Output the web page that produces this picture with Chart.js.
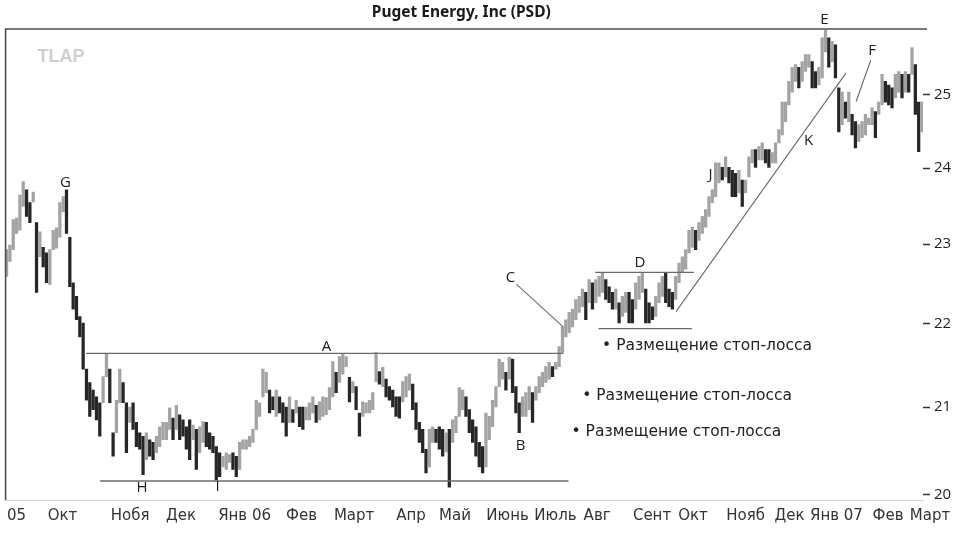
<!DOCTYPE html>
<html>
<head>
<meta charset="utf-8">
<script src="https://cdn.jsdelivr.net/npm/chart.js@4.4.1/dist/chart.umd.min.js"></script>
<style>
  html, body { margin: 0; padding: 0; background: #fff; }
  canvas { display: block; }
</style>
</head>
<body>
<canvas id="chart" width="961" height="536"></canvas>
<script>
// daily high / low, Sept 2005 - March 2007
const highs = [
  22.93, 22.99, 23.32, 23.34, 23.64, 23.82, 23.71, 23.54, 23.68, 23.28,
  23.16, 22.96, 22.89, 22.93, 23.18, 23.21, 23.54, 23.62, 23.71, 23.09,
  22.51, 22.34, 22.09, 22.01, 21.45, 21.29, 21.20, 21.12, 21.05, 21.36,
  21.63, 21.45, 20.70, 21.08, 21.45, 21.29, 21.05, 21.00, 21.05, 20.82,
  20.70, 20.66, 20.70, 20.62, 20.59, 20.66,
  20.77, 20.82, 20.82, 20.99, 20.87, 21.02, 20.91, 20.85, 20.77, 20.85,
  20.79, 20.74, 20.77, 20.83, 20.82, 20.70, 20.66, 20.54, 20.47, 20.43,
  20.47, 20.45, 20.47, 20.43, 20.59, 20.62, 20.62, 20.66, 20.74, 21.08,
  21.05, 21.45, 21.41, 21.20, 21.12, 21.20, 21.12, 21.05, 21.00, 21.12,
  20.97, 21.08, 21.00, 21.00, 21.00, 21.05, 21.12, 21.02,
  21.06, 21.12, 21.11, 21.23, 21.54, 21.41, 21.60, 21.63, 21.60, 21.35,
  21.30, 21.24, 20.93, 21.06, 21.05, 21.08, 21.17, 21.65, 21.42, 21.47,
  21.33, 21.24, 21.20, 21.12, 21.12, 21.30, 21.36, 21.39, 21.27, 21.05,
  20.82, 20.74, 20.51, 20.74, 20.77, 20.74, 20.77, 20.74, 20.70, 20.74,
  20.85, 20.89, 21.23, 21.20, 21.12, 20.97, 20.85,
  20.77, 20.59, 20.54, 20.93, 20.89, 21.08, 21.24, 21.57, 21.53, 21.41,
  21.59, 21.57, 21.24, 21.05, 21.12, 21.17, 21.24, 21.17, 21.24, 21.36,
  21.41, 21.48, 21.53, 21.48, 21.53, 21.72, 21.96, 22.05, 22.14, 22.18,
  22.30, 22.34, 22.43, 22.39, 22.55, 22.51, 22.55, 22.59, 22.64, 22.55,
  22.46, 22.39, 22.43, 22.26, 22.34, 22.39,
  22.39, 22.30, 22.51, 22.59, 22.64, 22.43, 22.26, 22.21, 22.34, 22.51,
  22.59, 22.64, 22.43, 22.39, 22.59, 22.76, 22.84, 22.93, 23.18, 23.22,
  23.18, 23.28, 23.36, 23.45, 23.62, 23.71, 24.07, 24.07, 24.01, 24.15,
  24.01, 23.97, 23.93, 23.97, 23.84, 23.84, 24.15, 24.25, 24.25, 24.29,
  24.34, 24.25, 24.25, 24.21, 24.34, 24.52,
  24.90, 24.90, 25.19, 25.39, 25.43, 25.39, 25.47, 25.57, 25.57, 25.47,
  25.33, 25.39, 25.81, 25.92, 25.81, 25.76, 25.71, 25.10, 25.04, 24.90,
  25.04, 24.73, 24.63, 24.59, 24.63, 24.73, 24.68, 24.82, 24.77, 24.90,
  25.29, 25.19, 25.14, 25.10, 25.29, 25.33, 25.29, 25.33, 25.29, 25.67,
  25.43, 24.90, 24.90
];
const lows = [
  22.59, 22.78, 22.93, 23.14, 23.18, 23.49, 23.36, 23.28, 23.55, 22.39,
  22.84, 22.71, 22.51, 22.49, 22.93, 22.95, 23.09, 23.42, 23.14, 22.46,
  22.18, 22.05, 21.84, 21.45, 21.08, 20.89, 20.97, 20.85, 20.66, 21.05,
  21.36, 21.05, 20.43, 20.70, 21.05, 21.05, 20.47, 20.82, 20.74, 20.54,
  20.51, 20.22, 20.39, 20.43, 20.39, 20.47,
  20.54, 20.62, 20.62, 20.74, 20.62, 20.74, 20.62, 20.66, 20.51, 20.39,
  20.62, 20.28, 20.47, 20.59, 20.54, 20.51, 20.47, 20.16, 20.20, 20.31,
  20.28, 20.36, 20.28, 20.20, 20.28, 20.51, 20.51, 20.54, 20.59, 20.74,
  20.89, 21.12, 21.17, 20.93, 20.97, 20.89, 20.93, 20.82, 20.66, 20.82,
  20.82, 20.93, 20.77, 20.74, 20.85, 20.85, 20.93, 20.82,
  20.85, 20.89, 20.91, 20.97, 21.12, 21.17, 21.29, 21.39, 21.48, 21.06,
  21.17, 20.97, 20.66, 20.89, 20.93, 20.93, 20.97, 21.30, 21.27, 21.24,
  21.12, 21.08, 21.00, 20.89, 20.87, 21.06, 21.12, 21.20, 20.97, 20.74,
  20.59, 20.47, 20.24, 20.31, 20.59, 20.59, 20.51, 20.43, 20.48, 20.08,
  20.59, 20.70, 20.89, 20.97, 20.89, 20.70, 20.59,
  20.43, 20.31, 20.24, 20.31, 20.62, 20.77, 21.00, 21.24, 21.33, 21.20,
  21.33, 21.17, 20.93, 20.70, 20.89, 20.89, 20.97, 20.82, 21.08, 21.17,
  21.24, 21.29, 21.33, 21.36, 21.45, 21.48, 21.65, 21.84, 21.89, 21.96,
  22.05, 22.14, 22.21, 22.05, 22.26, 22.18, 22.26, 22.34, 22.39, 22.30,
  22.26, 22.18, 22.18, 22.01, 22.09, 22.14,
  22.01, 22.01, 22.18, 22.30, 22.39, 22.01, 22.01, 22.05, 22.09, 22.26,
  22.34, 22.26, 22.21, 22.18, 22.30, 22.51, 22.64, 22.68, 22.89, 22.96,
  22.93, 23.05, 23.14, 23.22, 23.36, 23.54, 23.62, 23.80, 23.84, 23.88,
  23.80, 23.62, 23.62, 23.67, 23.49, 23.67, 23.88, 24.07, 24.01, 24.11,
  24.11, 24.07, 24.01, 24.07, 24.07, 24.34,
  24.45, 24.63, 24.86, 25.04, 25.19, 25.10, 25.19, 25.33, 25.39, 25.10,
  25.10, 25.14, 25.24, 25.61, 25.39, 25.47, 25.24, 24.49, 24.59, 24.68,
  24.63, 24.45, 24.27, 24.36, 24.41, 24.45, 24.59, 24.59, 24.41, 24.73,
  24.86, 24.90, 24.86, 24.82, 24.96, 25.04, 24.96, 25.04, 25.04, 25.29,
  24.73, 24.22, 24.49
];

const priceTicks = [20, 21, 22, 23, 24, 25];
const monthLabels = ['05', 'Окт', 'Нобя', 'Дек', 'Янв 06', 'Фев', 'Март', 'Апр', 'Май', 'Июнь',
  'Июль', 'Авг', 'Сент', 'Окт', 'Нояб', 'Дек', 'Янв 07', 'Фев', 'Март'];
const monthPos = [3.0, 16.8, 37.1, 52.4, 71.5, 88.6, 104.4, 121.5, 134.7, 150.5,
  164.9, 177.4, 193.9, 206.2, 222.0, 235.2, 249.3, 264.8, 277.4];

// chart notes, in (bar index, price)
const supportLines = [
  { from: 23.9, to: 167.3, p: 21.64 },
  { from: 28.1, to: 168.8, p: 20.15 },
  { from: 176.8, to: 206.5, p: 22.64 },
  { from: 177.8, to: 205.9, p: 21.94 }
];
const slantLines = [
  [153.2, 22.49, 167.3, 21.96],
  [259.6, 25.49, 255.2, 24.91],
  [201.1, 22.15, 252.2, 25.31]
];
const letters = [
  ['A', 96.1, 21.72], ['B', 154.4, 20.55], ['C', 151.4, 22.57], ['D', 190.3, 22.76],
  ['E', 245.7, 26.08], ['F', 260.0, 25.63], ['G', 17.7, 23.80], ['H', 40.7, 20.07],
  ['I', 63.4, 20.09], ['J', 211.5, 23.91], ['K', 240.9, 24.37]
];
const stopNotes = [[178.9, 21.73], [172.9, 21.13], [169.7, 20.71]];

const barColors = highs.map((h, i) => {
  if (i === 0) return '#a3a3a3';
  const mid = (h + lows[i]) / 2, prev = (highs[i - 1] + lows[i - 1]) / 2;
  return mid < prev ? '#262626' : '#a3a3a3';
});

const overlay = {
  id: 'overlay',
  afterDatasetsDraw(chart) {
    const { ctx, chartArea: a, scales: { x, y } } = chart;
    ctx.save();

    ctx.strokeStyle = '#4d4d4d';
    ctx.lineWidth = 1.6;
    ctx.beginPath();
    ctx.moveTo(a.left, a.bottom);
    ctx.lineTo(a.left, a.top);
    ctx.lineTo(a.right + 4, a.top);
    ctx.stroke();

    ctx.strokeStyle = '#6a6a6a';
    ctx.lineWidth = 1.3;
    supportLines.forEach(l => {
      const py = y.getPixelForValue(l.p);
      ctx.beginPath();
      ctx.moveTo(x.getPixelForValue(l.from), py);
      ctx.lineTo(x.getPixelForValue(l.to), py);
      ctx.stroke();
    });
    ctx.lineWidth = 1.1;
    slantLines.forEach(([i1, p1, i2, p2]) => {
      ctx.beginPath();
      ctx.moveTo(x.getPixelForValue(i1), y.getPixelForValue(p1));
      ctx.lineTo(x.getPixelForValue(i2), y.getPixelForValue(p2));
      ctx.stroke();
    });

    ctx.fillStyle = '#1c1c1c';
    ctx.font = '15px "Open Sans"';
    ctx.textAlign = 'center';
    ctx.textBaseline = 'middle';
    letters.forEach(([t, i, p]) => ctx.fillText(t, x.getPixelForValue(i), y.getPixelForValue(p)));

    ctx.fillStyle = '#222';
    ctx.font = '15.5px "DejaVu Sans"';
    ctx.textAlign = 'left';
    stopNotes.forEach(([i, p]) => ctx.fillText('• Размещение стоп-лосса', x.getPixelForValue(i), y.getPixelForValue(p)));

    ctx.fillStyle = '#cfcfcf';
    ctx.font = 'bold 18px "Liberation Sans"';
    ctx.fillText('TLAP', a.left + 32, a.top + 28);

    ctx.fillStyle = '#1a1a1a';
    ctx.font = 'bold 15.5px "Noto Sans"';
    ctx.textAlign = 'center';
    ctx.fillText('Puget Energy, Inc (PSD)', (a.left + a.right) / 2 - 3, 13);
    ctx.restore();
  }
};

new Chart(document.getElementById('chart'), {
  type: 'bar',
  data: {
    datasets: [{
      data: lows.map((l, i) => ({ x: i, y: [l, highs[i]] })),
      backgroundColor: barColors,
      borderWidth: 0,
      barThickness: 2.6,
      grouped: false
    }]
  },
  options: {
    responsive: false,
    animation: false,
    layout: { padding: { left: 2, top: 29, right: 0, bottom: 0 } },
    plugins: { legend: { display: false }, tooltip: { enabled: false } },
    scales: {
      x: {
        type: 'linear',
        min: -0.3,
        max: 275.3,
        offset: false,
        grid: { display: false, drawTicks: false },
        border: { display: true, color: '#cfcfcf', width: 1, dash: [1, 26] },
        ticks: {
          autoSkip: false,
          maxRotation: 0,
          padding: 7,
          color: '#333',
          font: { family: 'DejaVu Sans', size: 15 },
          callback: (v, idx) => monthLabels[idx]
        },
        afterBuildTicks: s => { s.ticks = monthPos.map(v => ({ value: v })); },
        afterFit: s => { s.height = 36; }
      },
      y: {
        type: 'logarithmic',
        position: 'right',
        min: 19.937,
        max: 25.939,
        grid: { drawOnChartArea: false, drawTicks: true, tickLength: 7, tickColor: '#333', tickWidth: 1.5 },
        border: { display: false },
        ticks: {
          padding: 4,
          color: '#222',
          font: { family: 'Open Sans', size: 15 },
          callback: v => String(v)
        },
        afterBuildTicks: s => { s.ticks = priceTicks.map(v => ({ value: v })); },
        afterFit: s => { s.width = 38; }
      }
    }
  },
  plugins: [overlay]
});
</script>
</body>
</html>
